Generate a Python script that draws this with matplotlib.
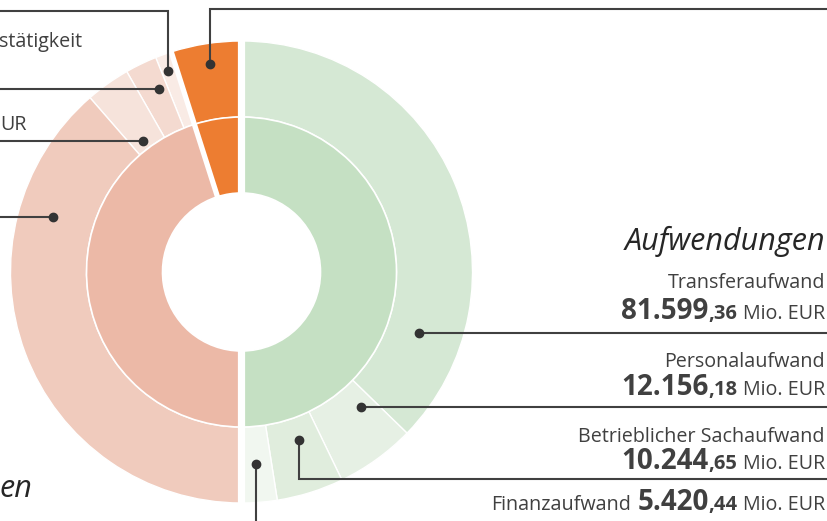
import numpy as np
import matplotlib.pyplot as plt

plt.rcParams['font.family'] = ['Open Sans', 'DejaVu Sans']

# Aufwendungen (Mio. EUR)
aufw_namen = ['Transferaufwand', 'Personalaufwand', 'Betrieblicher Sachaufwand', 'Finanzaufwand']
aufw_werte = [81599.36, 12156.18, 10244.65, 5420.44]
aufw_farben = ['#D5E8D4', '#E6F0E4', '#E0EDDD', '#F1F7F0']

# linke Hälfte: Fehlbetrag + Erträge (Werte aus dem Bild geschätzt)
fehlbetrag = 10760
ertr_werte = [2490, 4860, 6810, 84500]
ertr_farben = ['#F9EBE5', '#F4DAD0', '#F6E3DB', '#F0CBBD']

W, H = 828, 521
cx, cy = 241.5, H - 272
r_out, r_in, r_hole = 231, 155, 79
txt = '#404040'

fig = plt.figure(figsize=(W / 100, H / 100), dpi=100)
ax = fig.add_axes([0, 0, 1, 1])

total = sum(aufw_werte)
links = [fehlbetrag] + ertr_werte
wp_out = dict(width=r_out - r_in, edgecolor='white', linewidth=1)
wp_in = dict(width=r_in - r_hole, edgecolor='white', linewidth=1.2)

# äußerer Ring
w1, _ = ax.pie(aufw_werte + [sum(links)], radius=r_out, center=(cx, cy), startangle=90,
               counterclock=False, colors=aufw_farben + ['w'], wedgeprops=wp_out)
w1[-1].set_visible(False)
w2, _ = ax.pie(links + [total], radius=r_out, center=(cx, cy), startangle=90,
               counterclock=True, colors=['#ED7D31'] + ertr_farben + ['w'], wedgeprops=wp_out)
w2[-1].set_visible(False)
# innerer Ring
w3, _ = ax.pie([total, sum(links)], radius=r_in, center=(cx, cy), startangle=90,
               counterclock=False, colors=['#C5E0C3', 'w'], wedgeprops=wp_in)
w3[-1].set_visible(False)
w4, _ = ax.pie([fehlbetrag, sum(ertr_werte), total], radius=r_in, center=(cx, cy), startangle=90,
               counterclock=True, colors=['#ED7D31', '#ECB9A7', 'w'], wedgeprops=wp_in)
w4[-1].set_visible(False)

# weiße Fugen
ax.plot([cx, cx], [cy - r_out - 3, cy + r_out + 3], color='white', lw=5.2, solid_capstyle='butt')
a = np.deg2rad(90 + fehlbetrag / sum(links) * 180)
ax.plot([cx, cx + (r_out + 3) * np.cos(a)], [cy, cy + (r_out + 3) * np.sin(a)],
        color='white', lw=3.8, solid_capstyle='butt')

ax.set_xlim(0, W)
ax.set_ylim(0, H)
ax.set_aspect('equal')
ax.axis('off')


def Y(py):
    return H - py


# Verbindungslinien (Pixelpositionen der Beschriftung)
leader = [
    [(419, 333), (830, 333)],
    [(361, 407), (830, 407)],
    [(299, 440), (299, 479), (830, 479)],
    [(256, 464), (256, 525)],
    [(210, 64), (210, 9), (830, 9)],
    [(168, 71), (168, 10.5), (-2, 10.5)],
    [(159, 89), (-2, 89)],
    [(143, 141), (-2, 141)],
    [(53, 217), (-2, 217)],
]
for pts in leader:
    xs = [p[0] for p in pts]
    ys = [Y(p[1]) for p in pts]
    ax.plot(xs, ys, color=txt, lw=1.5, solid_joinstyle='miter')
    ax.plot(xs[0], ys[0], 'o', color='#333333', ms=6)

fig.canvas.draw()
rend = fig.canvas.get_renderer()


def zeile(x_right, y_base, teile):
    # teile von links nach rechts: (text, größe, gewicht)
    x = x_right
    for s, size, weight in reversed(teile):
        if s == ' ':
            x -= size
            continue
        t = ax.text(x, Y(y_base), s, ha='right', va='baseline', fontsize=size,
                    fontweight=weight, color=txt)
        bb = t.get_window_extent(rend)
        x = ax.transData.inverted().transform((bb.x0, 0))[0]


def betrag(wert):
    s = f'{wert:,.2f}'.replace(',', 'X').replace('.', ',').replace('X', '.')
    return s.split(',')


xr = 825
reg, gross, klein = 14.2, 20, 14.5
ax.text(xr, Y(250), 'Aufwendungen', ha='right', va='baseline', fontsize=22,
        style='italic', color='#262626')
basis = [(288, 319), (367, 395), (442, 469)]
for name, wert, (yb1, yb2) in zip(aufw_namen[:3], aufw_werte[:3], basis):
    ganz, dez = betrag(wert)
    ax.text(xr, Y(yb1), name, ha='right', va='baseline', fontsize=reg, color=txt)
    zeile(xr, yb2, [(ganz, gross, 'bold'), (',' + dez, klein, 'bold'), (' ', 5, None),
                    ('Mio. EUR', reg, 'normal')])
ganz, dez = betrag(aufw_werte[3])
zeile(xr, 510, [(aufw_namen[3], reg, 'normal'), (' ', 6, None), (ganz, gross, 'bold'),
                (',' + dez, klein, 'bold'), (' ', 5, None), ('Mio. EUR', reg, 'normal')])

# abgeschnittene Beschriftungen links
ax.text(-1, Y(47), 'stätigkeit', ha='left', va='baseline', fontsize=reg, color=txt)
ax.text(0, Y(130), 'UR', ha='left', va='baseline', fontsize=reg, color=txt)
ax.text(-1, Y(497), 'en', ha='left', va='baseline', fontsize=22, style='italic', color='#262626')

fig.savefig('out.png', dpi=100)
